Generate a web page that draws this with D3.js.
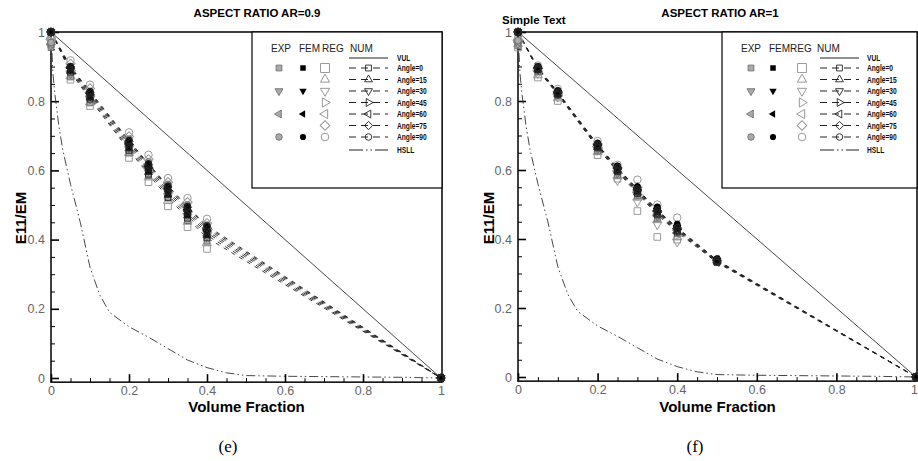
<!DOCTYPE html>
<html>
<head>
<meta charset="utf-8">
<script src="https://cdn.jsdelivr.net/npm/d3@7"></script>
<style>
  body { margin: 0; background: #fff; }
  svg { display: block; font-family: Arial, "Liberation Sans", sans-serif; }
</style>
</head>
<body>
<svg id="chart" width="918" height="461"></svg>
<script>
// ---- shared labels / ticks ----
const angleLabels = ['Angle=0', 'Angle=15', 'Angle=30', 'Angle=45', 'Angle=60', 'Angle=75', 'Angle=90'];
const angleShapes = ['square', 'triUp', 'triDown', 'triRight', 'triLeft', 'diamond', 'circle'];
const expShapes = ['square', 'triDown', 'triLeft', 'circle']; // EXP / FEM only for 0, 30, 60, 90
const expRows = [0, 2, 4, 6];
const majorTicks = [0, 0.2, 0.4, 0.6, 0.8, 1];
const minorTicks = [0.05, 0.1, 0.15, 0.25, 0.3, 0.35, 0.45, 0.5, 0.55, 0.65, 0.7, 0.75, 0.85, 0.9, 0.95];

// ---- reference curves ----
const vulVf = [0, 1];
const vulE = [1, 0];
const hsllVf = [0, 0.005, 0.01, 0.02, 0.03, 0.05, 0.075, 0.1, 0.125, 0.15, 0.2, 0.25, 0.3, 0.35, 0.4, 0.45, 0.5, 0.6, 0.7, 0.8, 0.9, 1];
const hsllE = [1, 0.88, 0.82, 0.73, 0.66, 0.56, 0.45, 0.32, 0.24, 0.19, 0.148, 0.118, 0.085, 0.052, 0.03, 0.015, 0.007, 0.005, 0.004, 0.003, 0.002, 0];

// ---- (e) AR = 0.9 ----
const vfNumE = [0, 0.05, 0.1, 0.2, 0.25, 0.3, 0.35, 0.4, 1];
const numE = [
  [1, 0.884, 0.806, 0.658, 0.589, 0.522, 0.462, 0.405, 0],
  [1, 0.887, 0.810, 0.663, 0.595, 0.529, 0.469, 0.412, 0],
  [1, 0.891, 0.815, 0.669, 0.601, 0.536, 0.476, 0.419, 0],
  [1, 0.894, 0.819, 0.675, 0.607, 0.542, 0.482, 0.425, 0],
  [1, 0.897, 0.823, 0.680, 0.612, 0.548, 0.488, 0.431, 0],
  [1, 0.899, 0.826, 0.684, 0.616, 0.552, 0.493, 0.436, 0],
  [1, 0.900, 0.828, 0.687, 0.619, 0.555, 0.496, 0.440, 0]
];
const vfRegE = [0, 0.05, 0.1, 0.2, 0.25, 0.3, 0.35, 0.4];
const regE = [
  [0.965, 0.862, 0.786, 0.636, 0.566, 0.496, 0.436, 0.373],
  [0.970, 0.872, 0.797, 0.650, 0.580, 0.512, 0.452, 0.390],
  [0.972, 0.880, 0.806, 0.662, 0.594, 0.526, 0.466, 0.405],
  [0.975, 0.888, 0.815, 0.673, 0.606, 0.539, 0.480, 0.420],
  [0.978, 0.897, 0.825, 0.685, 0.618, 0.552, 0.494, 0.433],
  [0.982, 0.908, 0.837, 0.698, 0.632, 0.566, 0.508, 0.447],
  [0.985, 0.918, 0.848, 0.710, 0.645, 0.578, 0.520, 0.460]
];
const vfExpE = [0, 0.05, 0.1, 0.2, 0.25, 0.3, 0.35, 0.4, 1];
const expE = [
  [0.955, 0.870, 0.795, 0.650, 0.585, 0.520, 0.455, 0.395, 0],
  [0.960, 0.878, 0.805, 0.664, 0.598, 0.533, 0.470, 0.410, 0],
  [0.965, 0.886, 0.815, 0.676, 0.610, 0.546, 0.485, 0.426, 0],
  [0.970, 0.895, 0.826, 0.690, 0.625, 0.560, 0.500, 0.442, 0]
];
const vfFemE = [0, 0.05, 0.1, 0.2, 0.25, 0.3, 0.35, 0.4, 1];
const femE = [
  [1, 0.890, 0.812, 0.666, 0.598, 0.532, 0.472, 0.414, 0],
  [1, 0.893, 0.818, 0.673, 0.606, 0.540, 0.480, 0.422, 0],
  [1, 0.896, 0.822, 0.679, 0.611, 0.546, 0.486, 0.429, 0],
  [1, 0.900, 0.828, 0.686, 0.619, 0.554, 0.495, 0.438, 0]
];

// ---- (f) AR = 1 ----
const vfNumF = [0, 0.05, 0.1, 0.2, 0.25, 0.3, 0.35, 0.4, 0.5, 1];
const numF = [
  [1, 0.890, 0.818, 0.664, 0.595, 0.532, 0.470, 0.420, 0.332, 0],
  [1, 0.891, 0.820, 0.666, 0.597, 0.535, 0.473, 0.423, 0.334, 0],
  [1, 0.893, 0.821, 0.668, 0.600, 0.537, 0.476, 0.425, 0.335, 0],
  [1, 0.894, 0.823, 0.670, 0.602, 0.540, 0.478, 0.428, 0.336, 0],
  [1, 0.895, 0.824, 0.672, 0.604, 0.542, 0.481, 0.430, 0.337, 0],
  [1, 0.896, 0.825, 0.673, 0.606, 0.544, 0.483, 0.432, 0.338, 0],
  [1, 0.897, 0.826, 0.674, 0.607, 0.545, 0.484, 0.433, 0.339, 0]
];
const vfRegF = [0, 0.05, 0.1, 0.2, 0.25, 0.3, 0.35, 0.4];
const regF = [
  [0.955, 0.868, 0.800, 0.643, 0.575, 0.481, 0.406, 0.398],
  [0.965, 0.875, 0.808, 0.652, 0.582, 0.520, 0.455, 0.405],
  [0.968, 0.880, 0.812, 0.658, 0.570, 0.508, 0.442, 0.392],
  [0.970, 0.883, 0.816, 0.663, 0.590, 0.528, 0.460, 0.410],
  [0.975, 0.888, 0.820, 0.668, 0.597, 0.535, 0.468, 0.418],
  [0.978, 0.895, 0.826, 0.675, 0.606, 0.550, 0.480, 0.430],
  [0.985, 0.903, 0.835, 0.684, 0.615, 0.572, 0.500, 0.462]
];
const vfExpF = [0, 0.05, 0.1, 0.2, 0.25, 0.3, 0.35, 0.4, 0.5, 1];
const expF = [
  [0.960, 0.885, 0.815, 0.655, 0.585, 0.525, 0.460, 0.415, 0.335, 0],
  [0.965, 0.890, 0.818, 0.660, 0.590, 0.530, 0.466, 0.420, 0.338, 0],
  [0.970, 0.894, 0.822, 0.665, 0.596, 0.536, 0.472, 0.425, 0.332, 0],
  [0.975, 0.900, 0.830, 0.672, 0.605, 0.545, 0.482, 0.435, 0.340, 0]
];
const vfFemF = [0, 0.05, 0.1, 0.2, 0.25, 0.3, 0.35, 0.4, 0.5, 1];
const femF = [
  [1, 0.893, 0.822, 0.668, 0.600, 0.540, 0.480, 0.430, 0.337, 0],
  [1, 0.895, 0.824, 0.671, 0.603, 0.543, 0.484, 0.434, 0.339, 0],
  [1, 0.897, 0.826, 0.674, 0.607, 0.547, 0.488, 0.438, 0.341, 0],
  [1, 0.900, 0.830, 0.678, 0.612, 0.552, 0.493, 0.443, 0.343, 0]
];

const svg = d3.select('#chart');

// marker shapes
function marker(sel, shape, size) {
  const type = shape === 'circle' ? d3.symbolCircle :
    (shape === 'square' || shape === 'diamond') ? d3.symbolSquare : d3.symbolTriangle;
  const rot = { triDown: 180, triRight: 90, triLeft: -90, diamond: 45 }[shape] || 0;
  const base = shape.startsWith('tri') ? size * 0.8 : size;
  return sel.append('path')
    .attr('d', d3.symbol(type, base)())
    .attr('data-rot', rot);
}

function place(node, x, y) {
  node.attr('transform', `translate(${x},${y}) rotate(${node.attr('data-rot')})`);
}

const styles = {
  reg: { fill: 'none', stroke: '#999', sw: 1, size: 44 },
  exp: { fill: '#aaa', stroke: '#666', sw: 0.8, size: 34 },
  fem: { fill: '#000', stroke: '#000', sw: 0.8, size: 30 },
  num: { fill: 'none', stroke: '#222', sw: 0.9, size: 34 }
};

function drawPoints(g, x, y, vf, vals, shape, st) {
  vf.forEach((v, i) => {
    const m = marker(g, shape, st.size)
      .attr('fill', st.fill).attr('stroke', st.stroke).attr('stroke-width', st.sw);
    place(m, x(v), y(vals[i]));
  });
}

function drawPanel(p) {
  const x = d3.scaleLinear().domain([0, 1]).range([p.left, p.right]);
  const y = d3.scaleLinear().domain([0, 1]).range([p.zero, p.top]);
  const boxB = y(-0.012), boxR = x(1) + 1;
  const g = svg.append('g');

  // frame
  g.append('rect').attr('x', p.left).attr('y', p.top)
    .attr('width', boxR - p.left).attr('height', boxB - p.top)
    .attr('fill', 'none').attr('stroke', '#000').attr('stroke-width', 1.5);

  // axes (ticks inward)
  const yAx = g.append('g').attr('transform', `translate(${p.left},0)`)
    .call(d3.axisLeft(y).tickValues(majorTicks).tickSize(-8).tickPadding(6).tickFormat(d3.format('~g')));
  yAx.append('g').call(d3.axisLeft(y).tickValues(minorTicks).tickSize(-4).tickFormat(''));
  const xAx = g.append('g').attr('transform', `translate(0,${boxB})`)
    .call(d3.axisBottom(x).tickValues(majorTicks).tickSize(-8).tickPadding(4).tickFormat(d3.format('~g')));
  xAx.append('g').call(d3.axisBottom(x).tickValues(minorTicks).tickSize(-4).tickFormat(''));
  [yAx, xAx].forEach(a => {
    a.selectAll('.domain').remove();
    a.selectAll('line').attr('stroke', '#000');
    a.selectAll('text').attr('fill', '#666').style('font-size', '12.5px')
      .style('font-family', 'Arial, "Liberation Sans", sans-serif');
  });
  yAx.selectAll('.tick').filter(d => majorTicks.includes(d)).select('line').attr('stroke-width', 1.6);
  xAx.selectAll('.tick').filter(d => majorTicks.includes(d)).select('line').attr('stroke-width', 1.6);
  if (p.lastLabelDx) {
    xAx.selectAll('.tick').filter(d => d === 1).select('text').attr('dx', p.lastLabelDx);
  }

  const line = d3.line().x(d => x(d[0])).y(d => y(d[1]));

  // curves
  g.append('path').attr('d', line(d3.zip(vulVf, vulE)))
    .attr('fill', 'none').attr('stroke', '#333').attr('stroke-width', 0.9);
  g.append('path').attr('d', line(d3.zip(hsllVf, hsllE)))
    .attr('fill', 'none').attr('stroke', '#333').attr('stroke-width', 0.9)
    .attr('stroke-dasharray', '9,3,1.5,3,1.5,3');
  p.num.forEach(vals => {
    g.append('path').attr('d', line(d3.zip(p.vfNum, vals)))
      .attr('fill', 'none').attr('stroke', '#222').attr('stroke-width', 0.9)
      .attr('stroke-dasharray', '4,5');
  });

  // markers
  p.reg.forEach((vals, k) => drawPoints(g, x, y, p.vfReg, vals, angleShapes[k], styles.reg));
  p.exp.forEach((vals, k) => drawPoints(g, x, y, p.vfExp, vals, expShapes[k], styles.exp));
  p.fem.forEach((vals, k) => drawPoints(g, x, y, p.vfFem, vals, expShapes[k], styles.fem));
  p.num.forEach((vals, k) => drawPoints(g, x, y, p.vfNum, vals, angleShapes[k], styles.num));

  // legend
  const L = boxR - p.legW, T = p.top;
  const lg = g.append('g');
  lg.append('rect').attr('x', L).attr('y', T).attr('width', p.legW).attr('height', p.legH)
    .attr('fill', '#fff').attr('stroke', '#000').attr('stroke-width', 1.2);
  const c = p.cols;
  [['EXP', c.hExp], ['FEM', c.hFem], ['REG', c.hReg], ['NUM', c.hNum]].forEach(([t, dx]) => {
    lg.append('text').attr('x', L + dx).attr('y', T + 20).text(t)
      .attr('fill', '#222').style('font-size', '10px');
  });
  const rowY = [36, 47.5, 59, 70.5, 82, 93.5, 105];
  const lab = (txt, yy) => lg.append('text').text(txt)
    .attr('transform', `translate(${L + c.text},${T + yy}) scale(0.7,1)`)
    .attr('dy', '0.35em').attr('fill', '#111')
    .style('font-size', '9.5px').style('font-weight', 'bold');
  lg.append('line').attr('x1', L + c.numA).attr('x2', L + c.numB)
    .attr('y1', T + 26).attr('y2', T + 26).attr('stroke', '#222');
  lab('VUL', 26);
  angleLabels.forEach((t, k) => {
    const yy = T + rowY[k];
    lg.append('line').attr('x1', L + c.numA).attr('x2', L + c.numB)
      .attr('y1', yy).attr('y2', yy).attr('stroke', '#222').attr('stroke-dasharray', '7,5');
    const nm = marker(lg, angleShapes[k], 34).attr('fill', 'none').attr('stroke', '#222').attr('stroke-width', 0.9);
    place(nm, L + (c.numA + c.numB) / 2, yy);
    const rm = marker(lg, angleShapes[k], k === 0 ? 80 : 46).attr('fill', 'none').attr('stroke', '#999').attr('stroke-width', 1);
    place(rm, L + c.reg, yy);
    lab(t, rowY[k]);
  });
  expShapes.forEach((s, j) => {
    const yy = T + rowY[expRows[j]];
    const em = marker(lg, s, 34).attr('fill', '#aaa').attr('stroke', '#666').attr('stroke-width', 0.8);
    place(em, L + c.exp, yy);
    const fm = marker(lg, s, 30).attr('fill', '#000');
    place(fm, L + c.fem, yy);
  });
  lg.append('line').attr('x1', L + c.numA).attr('x2', L + c.numB)
    .attr('y1', T + 118).attr('y2', T + 118).attr('stroke', '#222')
    .attr('stroke-dasharray', '14,3,1.5,3,1.5,3');
  lab('HSLL', 118);

  // texts
  svg.append('text').attr('x', p.titleX).attr('y', 17).attr('text-anchor', 'middle')
    .style('font-size', '11.5px').style('font-weight', 'bold').text(p.title);
  svg.append('text').attr('x', (p.left + boxR) / 2).attr('y', 412).attr('text-anchor', 'middle')
    .style('font-size', '15px').style('font-weight', 'bold').text('Volume Fraction');
  svg.append('text').attr('transform', `translate(${p.ylabX},218) rotate(-90)`)
    .attr('text-anchor', 'middle').attr('dy', '0.35em')
    .style('font-size', '15px').style('font-weight', 'bold').text('E11/EM');
  svg.append('text').attr('x', p.capX).attr('y', 452).attr('text-anchor', 'middle')
    .style('font-family', '"Liberation Serif", "DejaVu Serif", serif').style('font-size', '17px')
    .text(p.caption);
}

drawPanel({
  left: 51, right: 441, top: 32, zero: 378,
  title: 'ASPECT RATIO AR=0.9', titleX: 257, caption: '(e)', capX: 228, ylabX: 21,
  legW: 190, legH: 156,
  cols: { exp: 27, fem: 51, reg: 73, numA: 97, numB: 136, text: 145, hExp: 19, hFem: 47, hReg: 70, hNum: 98 },
  vfNum: vfNumE, num: numE, vfReg: vfRegE, reg: regE, vfExp: vfExpE, exp: expE, vfFem: vfFemE, fem: femE
});
drawPanel({
  left: 518, right: 916, top: 32, zero: 377, lastLabelDx: -2,
  title: 'ASPECT RATIO AR=1', titleX: 720, caption: '(f)', capX: 695, ylabX: 489,
  legW: 195, legH: 156,
  cols: { exp: 29, fem: 51, reg: 80, numA: 98, numB: 137, text: 145, hExp: 19, hFem: 47, hReg: 68, hNum: 95 },
  vfNum: vfNumF, num: numF, vfReg: vfRegF, reg: regF, vfExp: vfExpF, exp: expF, vfFem: vfFemF, fem: femF
});

svg.append('text').attr('x', 502).attr('y', 24)
  .style('font-size', '11.5px').style('font-weight', 'bold').text('Simple Text');
</script>
</body>
</html>
